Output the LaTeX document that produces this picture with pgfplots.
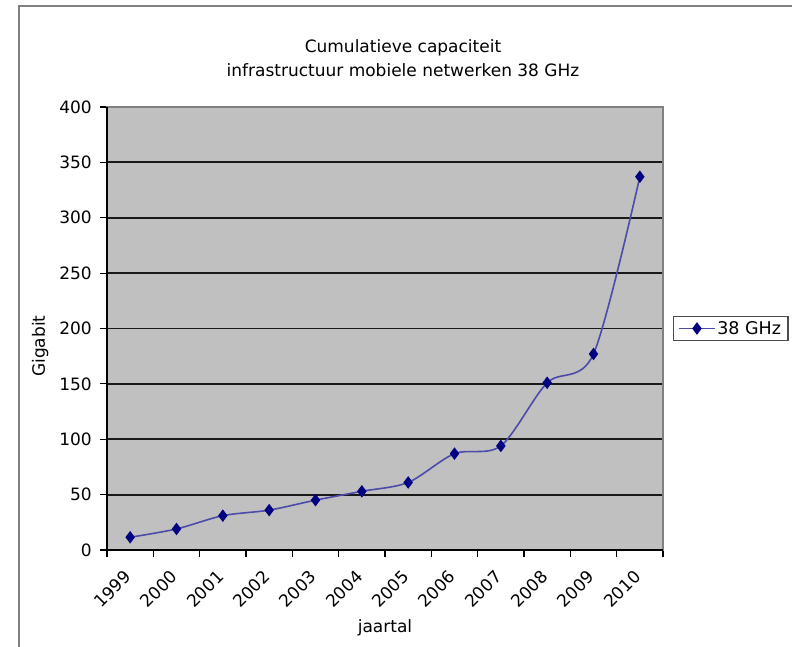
\documentclass[border=0pt]{standalone}
\usepackage{pgfplots}
\pgfplotsset{compat=1.18}
\usepackage{fontspec}
\setmainfont{DejaVu Sans}
\definecolor{plotbg}{RGB}{192,192,192}
\definecolor{navy}{RGB}{0,0,128}
\definecolor{serline}{RGB}{75,75,170}
\newcommand{\fs}{\fontsize{17bp}{21bp}\selectfont}
\newcommand{\fl}{\fontsize{17.5bp}{21bp}\selectfont}
\begin{document}
\begin{tikzpicture}
\path[use as bounding box] (0,0) rectangle (792bp,647bp);
\draw[gray, line width=1.5bp] (19bp,0) -- (19bp,641bp) -- (792bp,641bp);
\node[font=\fs] at (403bp,599bp) {Cumulatieve capaciteit};
\node[font=\fs] at (403bp,577bp) {infrastructuur mobiele netwerken 38 GHz};
\begin{axis}[
  at={(107bp,97bp)}, anchor=south west,
  scale only axis, width=556bp, height=443bp,
  xmin=-0.5, xmax=11.5, ymin=0, ymax=400,
  /pgf/number format/assume math mode=true,
  axis background/.style={fill=plotbg},
  axis line style={draw=gray, line width=1.2bp},
  ytick={0,50,...,400},
  xtick={-0.5,0.5,...,11.5}, xticklabels={},
  extra x ticks={0,1,...,11},
  extra x tick labels={1999,2000,2001,2002,2003,2004,2005,2006,2007,2008,2009,2010},
  extra x tick style={major tick length=0pt, grid=none},
  tick pos=left, tick align=outside,
  major tick length=7bp,
  tick style={black, line width=1.2bp},
  ymajorgrids,
  major grid style={black!90, line width=1.8bp},
  tick label style={font=\fs},
  xticklabel style={xshift=-7bp, yshift=-19bp, rotate=45, anchor=north east, inner sep=0pt},
  yticklabel style={anchor=east, inner sep=0pt, xshift=-8bp},
  label style={font=\fs},
  xlabel={jaartal},
  xlabel style={at={(axis description cs:0.5,-0.176)}, anchor=center},
  ylabel={Gigabit},
  ylabel style={at={(axis description cs:-0.12,0.46)}, anchor=center},
  legend style={at={(1,0.5)}, anchor=west, xshift=10bp, draw=gray!60!black, line width=1.3bp, font=\fl, inner xsep=5bp, inner ysep=2.5bp, cells={anchor=west}},
  legend image code/.code={\draw[#1, mark repeat=2, mark phase=2] plot coordinates {(0bp,0bp) (17.5bp,0bp) (35bp,0bp)};},
  after end axis/.code={\draw[black, line width=1.2bp] (rel axis cs:0,1) -- (rel axis cs:0,0) -- (rel axis cs:1,0);},
]
\addplot[serline, line width=1.6bp, smooth, tension=0.5, mark=diamond*, mark size=5bp, mark options={fill=navy, draw=navy, solid}]
  coordinates {(0,11.5) (1,19) (2,31) (3,36) (4,45) (5,53) (6,61) (7,87) (8,94) (9,151) (10,177) (11,337)};
\addlegendentry{38 GHz}
\end{axis}
\end{tikzpicture}
\end{document}
